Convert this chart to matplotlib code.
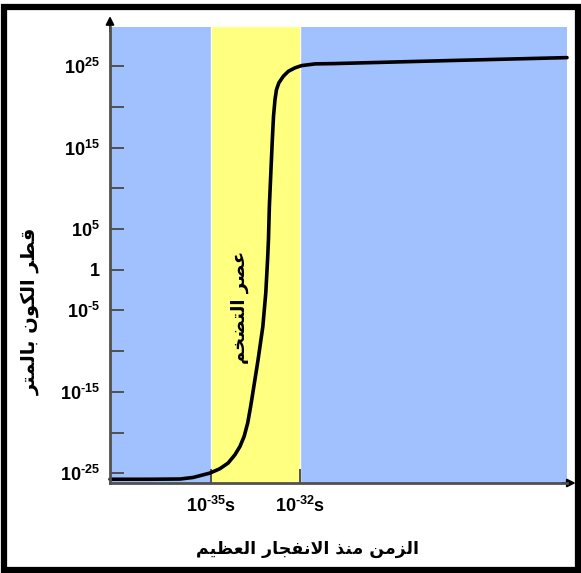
import numpy as np
import matplotlib
matplotlib.use("Agg")
import matplotlib.pyplot as plt
from matplotlib.patches import Rectangle

# ── COLOURS ────────────────────────────────────────────────
BLUE   = "#A0C0FE"
YELLOW = "#FFFF80"
AXIS   = "#505050"

# ── DATA (log10 values) ────────────────────────────────────
time_exp = [-38.40, -37.06, -36.04, -35.60, -35.03, -34.70, -34.42, -34.19,
            -34.02, -33.88, -33.76, -33.66, -33.57, -33.41, -33.25, -33.15,
            -33.09, -33.06, -33.03, -32.98, -32.93, -32.89, -32.84, -32.79,
            -32.71, -32.56, -32.39, -32.17, -31.94, -31.49, -30.82, -26.95,
            -23.00]
size_exp = [-25.74, -25.74, -25.71, -25.52, -24.98, -24.45, -23.75, -22.73,
            -21.71, -20.48, -18.83, -16.79, -14.74, -11.06, -7.00, -2.83,
            1.23, 3.69, 7.74, 11.92, 15.97, 18.83, 20.88, 22.11,
            22.94, 23.75, 24.36, 24.78, 25.06, 25.27, 25.31, 25.68,
            26.04]

inflation_start = -35
inflation_end   = -32

HY = "\u2010"  # short hyphen, like the picture, instead of a long minus
ytick_exp    = [-25, -20, -15, -10, -5, 0, 5, 10, 15, 20, 25]
ytick_labels = [f"$10^{{{HY}25}}$", "", f"$10^{{{HY}15}}$", "", f"$10^{{{HY}5}}$",
                "$1$", "$10^{5}$", "", "$10^{15}$", "", "$10^{25}$"]
xtick_exp    = [-35, -32]
xtick_labels = [f"$10^{{{HY}35}}$s", f"$10^{{{HY}32}}$s"]

ylabel_text    = "قطر الكون بالمتر"
xlabel_text    = "الزمن منذ الانفجار العظيم"
inflation_text = "عصر التضخم"

# ── ARABIC SHAPING ─────────────────────────────────────────
# matplotlib has no text shaping, so pick the contextual glyph forms by hand
# (isolated, final, initial, medial); None = does not join the next letter
FORMS = {
    "ا": ("\uFE8D", "\uFE8E", None, None),
    "ب": ("\uFE8F", "\uFE90", "\uFE91", "\uFE92"),
    "ت": ("\uFE95", "\uFE96", "\uFE97", "\uFE98"),
    "ج": ("\uFE9D", "\uFE9E", "\uFE9F", "\uFEA0"),
    "خ": ("\uFEA5", "\uFEA6", "\uFEA7", "\uFEA8"),
    "ذ": ("\uFEAB", "\uFEAC", None, None),
    "ر": ("\uFEAD", "\uFEAE", None, None),
    "ز": ("\uFEAF", "\uFEB0", None, None),
    "ص": ("\uFEB9", "\uFEBA", "\uFEBB", "\uFEBC"),
    "ض": ("\uFEBD", "\uFEBE", "\uFEBF", "\uFEC0"),
    "ط": ("\uFEC1", "\uFEC2", "\uFEC3", "\uFEC4"),
    "ظ": ("\uFEC5", "\uFEC6", "\uFEC7", "\uFEC8"),
    "ع": ("\uFEC9", "\uFECA", "\uFECB", "\uFECC"),
    "ف": ("\uFED1", "\uFED2", "\uFED3", "\uFED4"),
    "ق": ("\uFED5", "\uFED6", "\uFED7", "\uFED8"),
    "ك": ("\uFED9", "\uFEDA", "\uFEDB", "\uFEDC"),
    "ل": ("\uFEDD", "\uFEDE", "\uFEDF", "\uFEE0"),
    "م": ("\uFEE1", "\uFEE2", "\uFEE3", "\uFEE4"),
    "ن": ("\uFEE5", "\uFEE6", "\uFEE7", "\uFEE8"),
    "و": ("\uFEED", "\uFEEE", None, None),
    "ي": ("\uFEF1", "\uFEF2", "\uFEF3", "\uFEF4"),
}


def joins_next(ch):
    return ch in FORMS and FORMS[ch][2] is not None


def shape(text):
    out = []
    i = 0
    while i < len(text):
        ch = text[i]
        prev = text[i - 1] if i > 0 else ""
        link_prev = joins_next(prev)
        if ch == "ل" and i + 1 < len(text) and text[i + 1] == "ا":
            out.append("\uFEFC" if link_prev else "\uFEFB")
            i += 2
            continue
        if ch not in FORMS:
            out.append(ch)
            i += 1
            continue
        nxt = text[i + 1] if i + 1 < len(text) else ""
        link_next = joins_next(ch) and nxt in FORMS
        iso, fin, ini, med = FORMS[ch]
        if link_prev and link_next:
            out.append(med)
        elif link_prev:
            out.append(fin)
        elif link_next:
            out.append(ini)
        else:
            out.append(iso)
        i += 1
    return "".join(out)[::-1]


# ── STYLE ──────────────────────────────────────────────────
plt.rcParams.update({
    "mathtext.fontset": "custom",
    "mathtext.rm": "Liberation Sans:bold",
    "mathtext.it": "Liberation Sans:bold",
    "mathtext.bf": "Liberation Sans:bold",
    "font.family": ["Liberation Sans", "DejaVu Sans"],
})

fig = plt.figure(figsize=(5.81, 5.73), dpi=100)
ax = fig.add_axes([110 / 581, 90 / 573, 457 / 581, 456 / 573])

ax.set_xscale("log")
ax.set_yscale("log")
ax.set_xlim(10.0 ** -38.4, 10.0 ** -23.0)
ax.set_ylim(10.0 ** -26.2, 10.0 ** 29.8)

ax.set_facecolor(BLUE)
ax.axvspan(10.0 ** inflation_start, 10.0 ** inflation_end, color=YELLOW, zorder=0)
ax.axvline(10.0 ** inflation_start, color="white", lw=0.8, zorder=0.5)
ax.axvline(10.0 ** inflation_end, color="white", lw=0.8, zorder=0.5)

ax.plot(10.0 ** np.array(time_exp), 10.0 ** np.array(size_exp),
        color="black", lw=2.6, solid_joinstyle="round", solid_capstyle="round",
        zorder=3, clip_on=False)

# ticks
ax.set_yticks([10.0 ** e for e in ytick_exp])
ax.set_yticklabels(ytick_labels)
ax.set_xticks([10.0 ** e for e in xtick_exp])
ax.set_xticklabels(xtick_labels, fontsize=13, fontweight="bold")
ax.minorticks_off()
ax.tick_params(axis="y", direction="in", length=10, width=1.4, color=AXIS,
               labelsize=13, pad=7)
ax.tick_params(axis="x", direction="in", length=10, width=1.4, color=AXIS,
               labelsize=13, pad=9)

for side in ["top", "right"]:
    ax.spines[side].set_visible(False)
for side in ["left", "bottom"]:
    ax.spines[side].set_color(AXIS)
    ax.spines[side].set_linewidth(2)
    ax.spines[side].set_zorder(4)

# arrow heads on the axes
ax.annotate("", xy=(0, 1.024), xytext=(0, 0.99), xycoords="axes fraction",
            arrowprops=dict(arrowstyle="-|>", color="black", lw=1.4,
                            mutation_scale=12, shrinkA=0, shrinkB=0),
            annotation_clip=False)
ax.annotate("", xy=(1.019, 0), xytext=(0.99, 0), xycoords="axes fraction",
            arrowprops=dict(arrowstyle="-|>", color="black", lw=1.4,
                            mutation_scale=12, shrinkA=0, shrinkB=0),
            annotation_clip=False)

# texts
ax.text(0.284, 0.386, shape(inflation_text), transform=ax.transAxes,
        rotation=90, ha="center", va="center", fontsize=13, fontweight="bold",
        family=["DejaVu Sans"])
fig.text(30 / 581, 1 - 311 / 573, shape(ylabel_text), rotation=90,
         ha="center", va="center", fontsize=14, fontweight="bold",
         family=["DejaVu Sans"])
fig.text(308 / 581, 1 - 549 / 573, shape(xlabel_text),
         ha="center", va="center", fontsize=12.5, fontweight="bold",
         family=["DejaVu Sans"])

# black frame around the whole picture
fig.patches.append(Rectangle((3.5 / 581, 3.5 / 573), 574.5 / 581, 563 / 573,
                             transform=fig.transFigure, fill=False,
                             edgecolor="black", lw=4.5))

fig.savefig("out.png", dpi=100)
